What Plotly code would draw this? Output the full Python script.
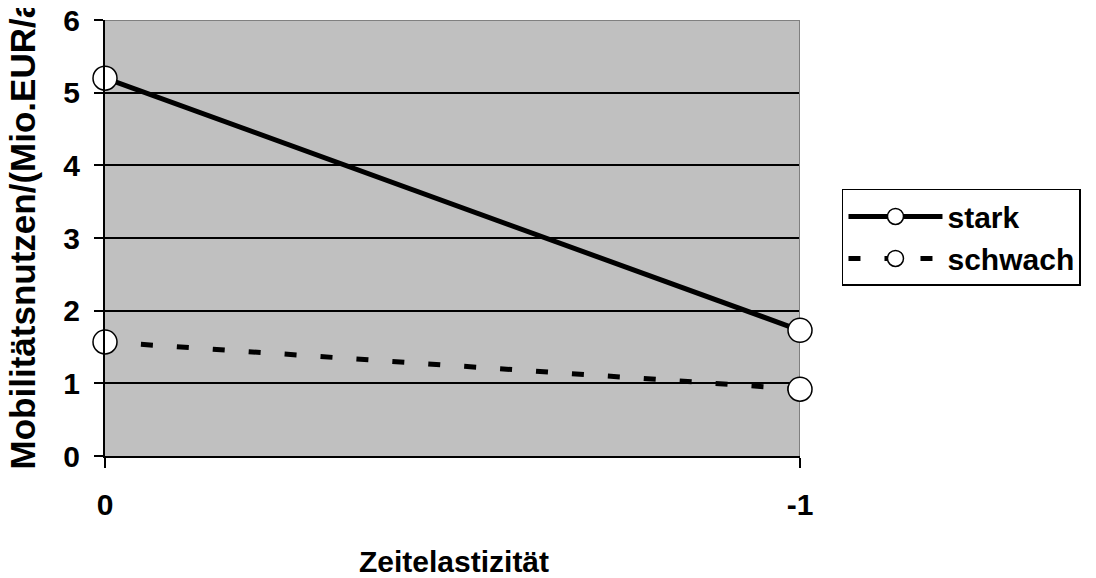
import plotly.graph_objects as go

categories = ["0", "-1"]
stark = [5.2, 1.73]
schwach = [1.57, 0.92]
series_names = ["stark", "schwach"]
y_ticks = [0, 1, 2, 3, 4, 5, 6]

FONT = "Arial, Liberation Sans, sans-serif"

fig = go.Figure()
fig.add_trace(go.Scatter(
    x=categories, y=stark, name=series_names[0], mode="lines+markers",
    line=dict(color="black", width=5),
    marker=dict(size=24, color="white", line=dict(color="black", width=1.5)),
    cliponaxis=False,
))
fig.add_trace(go.Scatter(
    x=categories, y=schwach, name=series_names[1], mode="lines+markers",
    line=dict(color="black", width=5, dash="12px,24px"),
    marker=dict(size=24, color="white", line=dict(color="black", width=1.5)),
    cliponaxis=False,
))

fig.update_layout(
    width=1088, height=570,
    margin=dict(l=97, r=296, t=12, b=122, autoexpand=False),
    paper_bgcolor="white", plot_bgcolor="#C0C0C0",
    font=dict(family=FONT, color="black"),
    showlegend=True,
    legend=dict(
        x=1.0604, y=0.6124, xanchor="left", yanchor="top",
        bgcolor="white", bordercolor="black", borderwidth=1.5,
        font=dict(family=FONT, size=30, color="black", weight="bold"),
        itemwidth=94,
    ),
    xaxis=dict(
        type="category", range=[0, 1], automargin=False,
        showgrid=False, zeroline=False,
        showline=True, linecolor="black", linewidth=2,
        ticks="outside", ticklen=10, tickwidth=1.5, tickcolor="black",
        ticklabelstandoff=11, ticklabeloverflow="allow",
        tickfont=dict(family=FONT, size=30, color="black", weight="bold"),
    ),
    yaxis=dict(
        range=[0, 6], tickvals=y_ticks, automargin=False,
        showgrid=True, gridcolor="black", gridwidth=1.5,
        zeroline=False,
        showline=True, linecolor="black", linewidth=2,
        ticks="outside", ticklen=9, tickwidth=1.5, tickcolor="black",
        ticklabelstandoff=8, ticklabeloverflow="allow",
        tickfont=dict(family=FONT, size=30, color="black", weight="bold"),
    ),
    shapes=[
        dict(type="line", xref="x", yref="y", x0=0, x1=1, y0=y_ticks[-1], y1=y_ticks[-1],
             line=dict(color="#808080", width=2), layer="between"),
        dict(type="line", xref="x", yref="y", x0=1, x1=1, y0=y_ticks[0], y1=y_ticks[-1],
             line=dict(color="#808080", width=2), layer="between"),
    ],
    annotations=[
        dict(text="Mobilitätsnutzen/(Mio.EUR/a)", textangle=-90,
             xref="paper", yref="paper", x=-0.1187, y=-0.0365,
             xanchor="center", yanchor="bottom", showarrow=False,
             font=dict(family=FONT, size=35, color="black", weight="bold")),
        dict(text="Zeitelastizität",
             xref="paper", yref="paper", x=0.502, y=-0.2431,
             xanchor="center", yanchor="middle", showarrow=False,
             font=dict(family=FONT, size=30, color="black", weight="bold")),
    ],
)

fig.write_html("out.html")
